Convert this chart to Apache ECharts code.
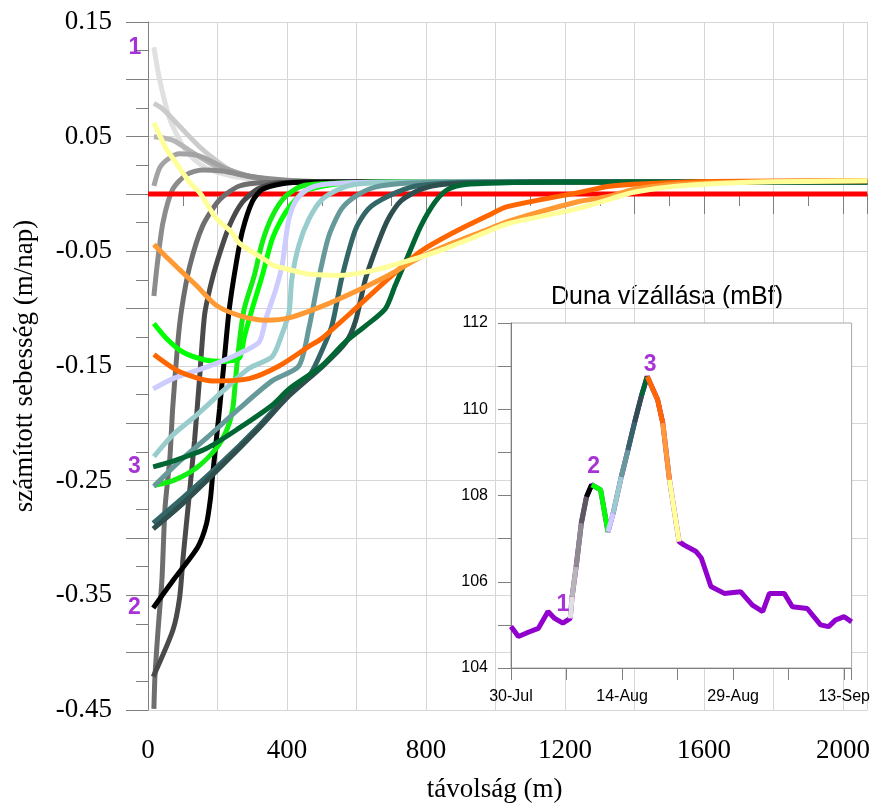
<!DOCTYPE html>
<html><head><meta charset="utf-8">
<script src="https://cdn.jsdelivr.net/npm/echarts@6/dist/echarts.min.js"></script>
<style>html,body{margin:0;padding:0;background:#fff}#c{width:873px;height:808px}</style>
</head><body><div id="c"></div>
<script>
// ---------- main chart data: distance (m) vs computed velocity (m/day) ----------
const xLabelValues = [0, 400, 800, 1200, 1600, 2000];
const c01 = [[17,0.128],[34,0.099],[63,0.065],[91,0.047],[111,0.037],[150,0.026],[197,0.019],[291,0.013],[400,0.011],[600,0.0105],[2070,0.0105]];
const c02 = [[17,0.079],[43,0.074],[91,0.059],[149,0.041],[197,0.029],[243,0.020],[340,0.013],[450,0.011],[650,0.0105],[2070,0.0105]];
const c03 = [[17,0.050],[71,0.047],[129,0.036],[197,0.024],[291,0.015],[400,0.011],[650,0.0105],[2070,0.0105]];
const c04 = [[17,0.007],[34,0.023],[60,0.031],[91,0.035],[149,0.033],[226,0.022],[300,0.015],[400,0.011],[650,0.0105],[2070,0.0105]];
const c05 = [[17,-0.089],[26,-0.063],[43,-0.025],[71,0.004],[111,0.017],[157,0.021],[214,0.020],[300,0.015],[400,0.012],[550,0.0105],[2070,0.0105]];
const cRed = [[0,0],[2070,0]];
const c06 = [[17,-0.449],[20,-0.421],[29,-0.380],[40,-0.337],[49,-0.274],[63,-0.230],[71,-0.187],[86,-0.129],[97,-0.100],[120,-0.063],[157,-0.028],[206,-0.005],[263,0.007],[340,0.010],[500,0.0105],[2070,0.0105]];
const c07 = [[15,-0.421],[72,-0.380],[91,-0.352],[101,-0.317],[115,-0.274],[134,-0.215],[149,-0.158],[163,-0.105],[180,-0.080],[200,-0.058],[234,-0.028],[272,-0.007],[320,0.005],[386,0.010],[550,0.0105],[2070,0.0105]];
const c08 = [[15,-0.361],[72,-0.337],[143,-0.308],[168,-0.288],[180,-0.265],[186,-0.245],[206,-0.187],[220,-0.143],[234,-0.100],[253,-0.062],[272,-0.032],[301,-0.006],[329,0.004],[386,0.009],[453,0.0105],[2070,0.0105]];
const c09 = [[17,-0.113],[53,-0.126],[101,-0.138],[168,-0.145],[220,-0.146],[263,-0.143],[277,-0.125],[300,-0.100],[329,-0.071],[358,-0.039],[396,-0.016],[434,-0.002],[463,0.004],[550,0.009],[700,0.0105],[2070,0.0105]];
const c10 = [[17,-0.254],[72,-0.250],[139,-0.239],[196,-0.222],[229,-0.204],[244,-0.187],[253,-0.158],[263,-0.129],[277,-0.100],[306,-0.071],[329,-0.042],[358,-0.019],[396,-0.002],[444,0.007],[550,0.0095],[700,0.0105],[2070,0.0105]];
const c11 = [[15,-0.170],[72,-0.161],[168,-0.151],[263,-0.139],[320,-0.129],[339,-0.109],[368,-0.083],[386,-0.062],[396,-0.040],[406,-0.021],[425,-0.006],[453,0.003],[500,0.008],[600,0.010],[750,0.0105],[2070,0.0105]];
const c12 = [[17,-0.229],[72,-0.210],[139,-0.193],[215,-0.172],[291,-0.152],[357,-0.142],[386,-0.122],[406,-0.103],[414,-0.074],[434,-0.045],[463,-0.022],[500,-0.005],[548,0.004],[597,0.0085],[700,0.010],[850,0.0105],[2070,0.0105]];
const c13 = [[17,-0.255],[91,-0.233],[168,-0.213],[263,-0.187],[357,-0.163],[434,-0.150],[463,-0.117],[491,-0.074],[520,-0.037],[557,-0.013],[597,-0.002],[654,0.006],[750,0.0095],[900,0.0105],[2070,0.0105]];
const c14 = [[15,-0.287],[100,-0.265],[206,-0.236],[320,-0.202],[406,-0.174],[463,-0.159],[491,-0.143],[529,-0.115],[557,-0.074],[597,-0.031],[634,-0.013],[691,-0.002],[768,0.0067],[900,0.010],[1050,0.0105],[2070,0.0105]];
const c15 = [[15,-0.292],[100,-0.270],[206,-0.239],[320,-0.204],[406,-0.176],[500,-0.151],[568,-0.130],[597,-0.111],[626,-0.074],[663,-0.042],[691,-0.022],[728,-0.006],[785,0.004],[854,0.0085],[1000,0.010],[1150,0.0105],[2070,0.0105]];
const c16 = [[15,-0.238],[72,-0.233],[168,-0.222],[263,-0.204],[358,-0.184],[406,-0.170],[500,-0.150],[568,-0.129],[626,-0.115],[683,-0.100],[711,-0.080],[748,-0.054],[785,-0.028],[826,-0.007],[863,0.004],[920,0.0085],[1050,0.010],[1200,0.0105],[2070,0.0105]];
const c17 = [[17,-0.140],[91,-0.155],[186,-0.163],[291,-0.161],[377,-0.150],[463,-0.133],[500,-0.126],[597,-0.100],[691,-0.074],[785,-0.050],[883,-0.033],[977,-0.019],[1034,-0.011],[1234,0.001],[1328,0.0067],[1397,0.0085],[1614,0.011],[2070,0.0115]];
const c18 = [[17,-0.044],[50,-0.054],[91,-0.066],[140,-0.080],[196,-0.097],[263,-0.106],[340,-0.110],[406,-0.108],[500,-0.098],[597,-0.085],[691,-0.071],[785,-0.055],[883,-0.042],[977,-0.031],[1034,-0.024],[1234,-0.007],[1328,-0.002],[1397,0.004],[1519,0.0085],[1805,0.011],[2070,0.0115]];
const c19 = [[17,0.062],[53,0.039],[72,0.031],[120,0.010],[149,0.001],[196,-0.021],[243,-0.034],[263,-0.043],[340,-0.058],[358,-0.062],[434,-0.068],[463,-0.070],[548,-0.071],[643,-0.067],[740,-0.059],[834,-0.050],[928,-0.039],[1034,-0.026],[1234,-0.013],[1328,-0.0046],[1397,0.0015],[1519,0.0067],[1711,0.010],[2070,0.0115]];
// annotations "1","2","3" at the starts of the curves for those times
const mainMarks = [[17,0.128,'1'],[15,-0.361,'2'],[15,-0.238,'3']];

// ---------- inset data: Danube water level (mBf), days after 30-Jul ----------
const insetDateLabels = ['30-Jul','14-Aug','29-Aug','13-Sep'];
const insetDateDays = [0, 15, 30, 45];
const insetDays   = [0,1,2.5,3.7,5.0,5.9,7.0,8.0,8.25,8.8,9.5,10.2,10.9,12.1,13.1,13.8,14.9,15.8,16.7,17.6,18.4,19.8,20.5,21.4,22.7,23.4,25.0,25.7,27.0,28.8,31.0,32.6,34.0,34.9,36.9,38.0,40.0,41.8,42.9,43.8,45.0,46.0];
const insetLevels = [104.96,104.73,104.84,104.92,105.31,105.15,105.04,105.15,105.65,106.35,107.36,107.97,108.25,108.13,107.16,107.59,108.44,109.06,109.70,110.30,110.76,110.22,109.68,108.36,106.93,106.85,106.70,106.55,105.89,105.73,105.77,105.46,105.31,105.73,105.73,105.42,105.38,105.00,104.96,105.11,105.19,105.07];
const insetSegmentRanges = [[7,8],[8,9],[9,10],[10,11],[11,12],[12,14],[14,15],[15,16],[16,17],[17,18],[18,19],[19,20],[20,22],[22,23],[23,24]];
const insetMarks = [[6,'1'],[12,'2'],[20,'3']];

// ---------- styles ----------
const curveList = [c01,c02,c03,c04,c05,cRed,c06,c07,c08,c09,c10,c11,c12,c13,c14,c15,c16,c17,c18,c19];
const curveColors = ['#e0e0e0','#cbcbcb','#b6b6b6','#a3a3a3','#8c8c8c','#ff0000','#6e6e6e','#4a4a4a','#000000','#00ff00','#11f011','#ccccff','#99cccc','#669999','#336666','#2f4f4f','#006633','#ff6600','#ff9933','#ffff99'];
const segColors = ['#e0e0e0','#b6b6b6','#8c8c8c','#5a5a5a','#000000','#00ff00','#ccccff','#99cccc','#669999','#336666','#2f4f4f','#006633','#ff6600','#ff9933','#ffff99'];
const purple = '#9100cc';
const insetLabelOffsets = [[0,0],[2,0],[3,6]];
const serif = 'Liberation Serif, Times New Roman, serif';
const sans = 'Liberation Sans, Arial, sans-serif';
const axisGray = '#7f7f7f';

const chart = echarts.init(document.getElementById('c'));
const series = [];
curveList.forEach((d, i) => {
  series.push({type:'line', xAxisIndex:0, yAxisIndex:0, data:d, showSymbol:false,
    smooth:0.25, lineStyle:{color:curveColors[i], width:5}, silent:true});
});
series.push({type:'scatter', xAxisIndex:0, yAxisIndex:0, data:mainMarks.map(m=>[m[0],m[1],m[2]]),
  symbolSize:1, itemStyle:{color:'rgba(0,0,0,0)'},
  label:{show:true, position:'left', distance:12, formatter:p=>p.value[2], color:purple, fontFamily:sans, fontWeight:'bold', fontSize:23}});

const insetPts = insetDays.map((d,i)=>[d, insetLevels[i]]);
series.push({type:'line', xAxisIndex:1, yAxisIndex:1, data:insetPts, showSymbol:false, z:4,
  lineStyle:{color:purple, width:5}, silent:true});
insetSegmentRanges.forEach((r, i) => {
  series.push({type:'line', xAxisIndex:1, yAxisIndex:1, data:insetPts.slice(r[0], r[1]+1), showSymbol:false, z:4,
    lineStyle:{color:segColors[i], width:5}, silent:true});
});
series.push({type:'scatter', xAxisIndex:1, yAxisIndex:1, z:5,
  data:insetMarks.map((m,i)=>({value:[insetDays[m[0]], insetLevels[m[0]], m[1]], label:{offset:insetLabelOffsets[i]}})),
  symbolSize:1, itemStyle:{color:'rgba(0,0,0,0)'},
  label:{show:true, position:'top', distance:6, formatter:p=>p.value[2], color:purple, fontFamily:sans, fontWeight:'bold', fontSize:23}});

function dateLabel(d){
  const k = insetDateDays.findIndex(v => Math.abs(v-d) < 1e-6);
  return k >= 0 ? insetDateLabels[k] : '';
}

chart.setOption({
  animation:false,
  backgroundColor:'#ffffff',
  grid:[
    {left:148, right:0, top:22, bottom:95},
    {left:511, right:20, top:323, bottom:140, show:true, z:1, borderColor:'#a8a8a8', borderWidth:1, backgroundColor:'#ffffff'}
  ],
  graphic:[{type:'text', left:668-117, top:285, style:{text:'Duna vízállása (mBf)', font:'25px '+sans, fill:'#000'}}],
  xAxis:[
    {type:'value', gridIndex:0, min:0, max:2070, interval:200,
     axisLine:{show:true, lineStyle:{color:axisGray}},
     axisTick:{show:true, length:20, lineStyle:{color:axisGray}},
     minorTick:{show:true, splitNumber:2, length:12, lineStyle:{color:axisGray}},
     splitLine:{show:true, lineStyle:{color:'#d6d6d6'}},
     axisLabel:{formatter:v => xLabelValues.includes(v) ? String(v) : '', fontFamily:serif, fontSize:27, color:'#000', margin:27},
     name:'távolság (m)', nameLocation:'middle', nameGap:66,
     nameTextStyle:{fontFamily:serif, fontSize:27, color:'#000', padding:[0,26,0,0]}},
    {type:'value', gridIndex:1, min:0, max:46, interval:7.5, z:3,
     axisLine:{show:true, lineStyle:{color:axisGray}},
     axisTick:{show:true, length:12, lineStyle:{color:axisGray}},
     splitLine:{show:false},
     axisLabel:{formatter:v => dateLabel(v), fontFamily:sans, fontSize:16, color:'#000', margin:21}}
  ],
  yAxis:[
    {type:'value', gridIndex:0, min:-0.45, max:0.15, interval:0.05,
     axisLine:{show:true, lineStyle:{color:axisGray}},
     axisTick:{show:true, length:22, lineStyle:{color:axisGray}},
     minorTick:{show:true, splitNumber:2, length:12, lineStyle:{color:axisGray}},
     splitLine:{show:true, lineStyle:{color:'#d6d6d6'}},
     axisLabel:{formatter:v => { const k = Math.round(v*100); return Math.abs(k)%10===5 ? v.toFixed(2) : ''; },
       fontFamily:serif, fontSize:27, color:'#000', margin:36},
     name:'számított sebesség (m/nap)', nameLocation:'middle', nameRotate:90, nameGap:110,
     nameTextStyle:{fontFamily:serif, fontSize:27, color:'#000'}},
    {type:'value', gridIndex:1, min:104, max:112, interval:1, z:3,
     axisLine:{show:true, lineStyle:{color:axisGray}},
     axisTick:{show:true, length:13, lineStyle:{color:axisGray}},
     splitLine:{show:false},
     axisLabel:{formatter:v => (Math.round(v)%2===0 ? String(Math.round(v)) : ''), fontFamily:sans, fontSize:16, color:'#000', margin:23}}
  ],
  series:series
});
</script>
</body></html>
